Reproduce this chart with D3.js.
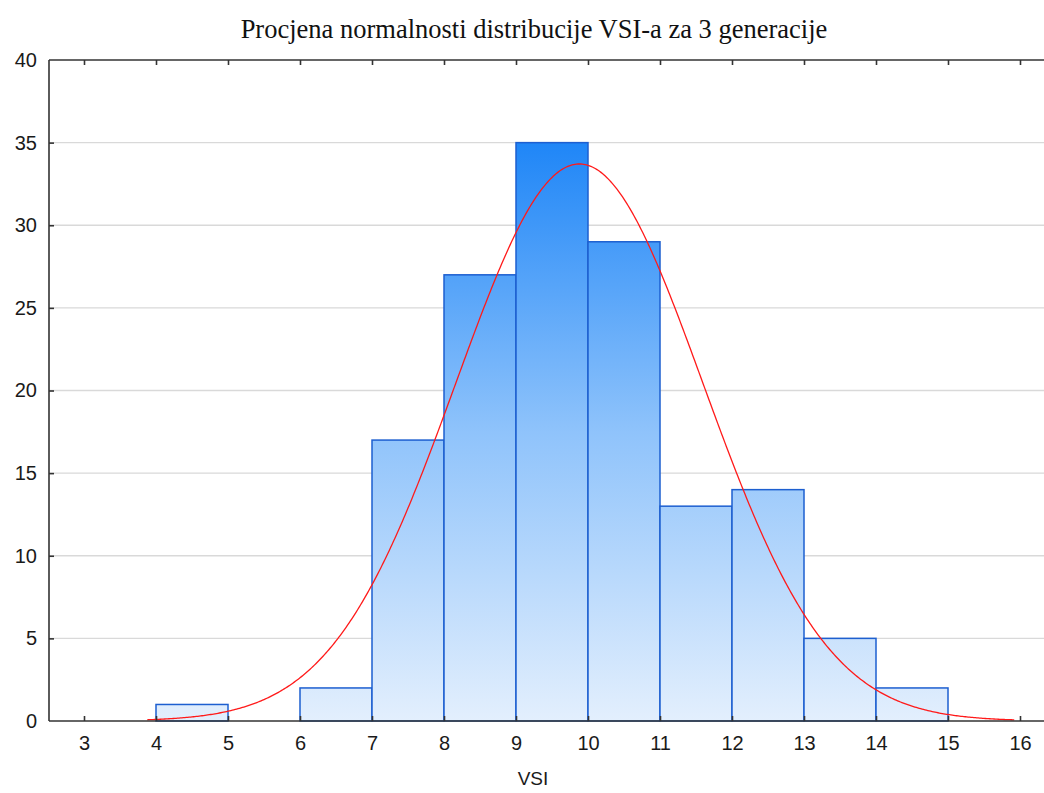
<!DOCTYPE html>
<html><head><meta charset="utf-8">
<script src="https://cdn.jsdelivr.net/npm/d3@7"></script>
<style>body{margin:0;background:#fff}svg{display:block}</style>
</head><body>
<script>
const binStarts = [4, 5, 6, 7, 8, 9, 10, 11, 12, 13, 14];
const counts    = [1, 0, 2, 17, 27, 35, 29, 13, 14, 5, 2];
const xTicks = [3,4,5,6,7,8,9,10,11,12,13,14,15,16];
const yTicks = [0,5,10,15,20,25,30,35,40];
const fitMean = 9.88, fitSd = 1.716, fitRange = [3.88, 15.92];
const title = "Procjena normalnosti distribucije VSI-a za 3 generacije";
const xLabel = "VSI";

const W = 1044, H = 793;
const m = {left: 49, top: 60, right: 1044, bottom: 721};
const svg = d3.select("body").append("svg").attr("width", W).attr("height", H);
const x = d3.scaleLinear().domain([3 - 35/72, 3 + (1044-84)/72]).range([m.left, m.right]);
const y = d3.scaleLinear().domain([0, 40]).range([m.bottom, m.top]);

const defs = svg.append("defs");
const g = defs.append("linearGradient").attr("id","bg").attr("gradientUnits","userSpaceOnUse")
  .attr("x1",0).attr("x2",0).attr("y1",y(0)).attr("y2",y(35));
g.append("stop").attr("offset","0%").attr("stop-color","#e3effd");
g.append("stop").attr("offset","50%").attr("stop-color","#8fc3fb");
g.append("stop").attr("offset","100%").attr("stop-color","#1f86f7");

// gridlines
svg.append("g").selectAll("line").data(yTicks.filter(d=>d>0 && d<40)).join("line")
  .attr("x1", m.left).attr("x2", m.right).attr("y1", d=>y(d)).attr("y2", d=>y(d))
  .attr("stroke","#d9d9d9").attr("stroke-width",1.3);

// bars
svg.append("g").selectAll("rect").data(binStarts.map((s,i)=>({s, c:counts[i]})).filter(d=>d.c>0)).join("rect")
  .attr("x", d=>x(d.s)).attr("width", d=>x(d.s+1)-x(d.s))
  .attr("y", d=>y(d.c)).attr("height", d=>y(0)-y(d.c))
  .attr("fill","url(#bg)").attr("stroke","#1d5fd0").attr("stroke-width",1.5);

// normal curve
const pts = d3.range(fitRange[0], fitRange[1]+1e-9, 0.02);
const total = d3.sum(counts);
const pdf = v => total * Math.exp(-0.5*((v-fitMean)/fitSd)**2) / (fitSd*Math.sqrt(2*Math.PI));
svg.append("path").datum(pts).attr("fill","none").attr("stroke","#ff1a1a").attr("stroke-width",1.3)
  .attr("d", d3.line().x(d=>x(d)).y(d=>y(pdf(d))));

// frame
const ax = svg.append("g").attr("stroke","#333").attr("stroke-width",1.6);
ax.append("line").attr("x1",m.left).attr("x2",m.left).attr("y1",m.top).attr("y2",m.bottom);
ax.append("line").attr("x1",m.left).attr("x2",m.right).attr("y1",m.top).attr("y2",m.top);
ax.append("line").attr("x1",m.left).attr("x2",m.right).attr("y1",m.bottom).attr("y2",m.bottom);

// axes
const xb = svg.append("g").attr("transform",`translate(0,${m.bottom})`)
  .call(d3.axisBottom(x).tickValues(xTicks).tickSize(-5).tickPadding(15).tickFormat(d3.format("d")));
const xt = svg.append("g").attr("transform",`translate(0,${m.top})`)
  .call(d3.axisTop(x).tickValues(xTicks).tickSize(-5).tickFormat(""));
const yl = svg.append("g").attr("transform",`translate(${m.left},0)`)
  .call(d3.axisLeft(y).tickValues(yTicks).tickSize(-5).tickPadding(12));
[xb, xt, yl].forEach(a=>{
  a.select(".domain").remove();
  a.selectAll(".tick line").attr("stroke","#333").attr("stroke-width",1.6);
  a.selectAll("text").attr("font-family","Liberation Sans, Arial, sans-serif").attr("font-size",20).attr("fill","#1a1a1a");
});
yl.selectAll(".tick").filter(d=>d===0||d===40).select("line").remove();

svg.append("text").attr("x",534).attr("y",38).attr("text-anchor","middle")
  .attr("font-family","Liberation Serif, Times New Roman, serif").attr("font-size",26.5).attr("fill","#111").text(title);
svg.append("text").attr("x",533).attr("y",785).attr("text-anchor","middle")
  .attr("font-family","Liberation Sans, Arial, sans-serif").attr("font-size",19).attr("fill","#1a1a1a").text(xLabel);
</script>
</body></html>
